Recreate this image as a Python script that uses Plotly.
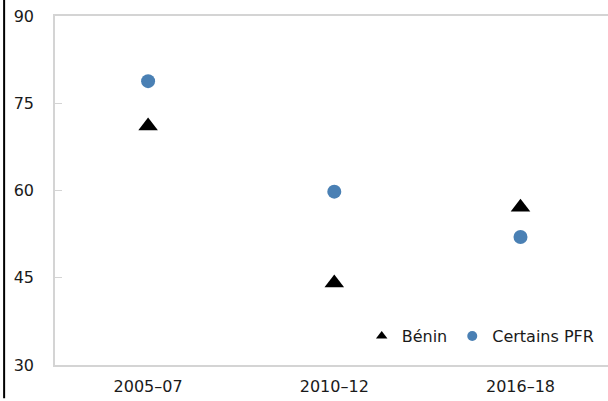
import plotly.graph_objects as go

periods = ["2005–07", "2010–12", "2016–18"]
benin = [71.1, 44.1, 57.1]
certains_pfr = [78.8, 59.8, 52.0]
y_ticks = [30, 45, 60, 75, 90]

font_family = "DejaVu Sans"
text_color = "#1a1a1a"
axis_grey = "#d4d4d4"
blue = "#4a80b4"

fig = go.Figure()

fig.add_trace(
    go.Scatter(
        x=periods,
        y=benin,
        mode="markers",
        name="Bénin",
        showlegend=False,
        marker=dict(symbol="triangle-up", size=17, color="#000000"),
    )
)

fig.add_trace(
    go.Scatter(
        x=periods,
        y=certains_pfr,
        mode="markers",
        name="Certains PFR",
        showlegend=False,
        marker=dict(symbol="circle", size=14, color=blue),
    )
)

# legend entries with smaller symbols, as in the original
fig.add_trace(
    go.Scatter(
        x=[None], y=[None], mode="markers", name="Bénin",
        marker=dict(symbol="triangle-up", size=10, color="#000000"),
    )
)
fig.add_trace(
    go.Scatter(
        x=[None], y=[None], mode="markers", name="Certains PFR",
        marker=dict(symbol="circle", size=10, color=blue),
    )
)

# left frame edge left over from the original crop
fig.add_shape(
    type="line",
    xref="paper", yref="paper",
    x0=-0.092, x1=-0.092, y0=1.05, y1=-0.095,
    line=dict(color="#000000", width=2),
)

fig.update_layout(
    width=608,
    height=401,
    margin=dict(l=55, r=0, t=16, b=36),
    paper_bgcolor="#ffffff",
    plot_bgcolor="#ffffff",
    font=dict(family=font_family, size=16, color=text_color),
    showlegend=True,
    legend=dict(
        orientation="h",
        x=0.985,
        xanchor="right",
        y=0.083,
        yanchor="middle",
        bgcolor="rgba(0,0,0,0)",
        font=dict(size=16),
        itemwidth=30,
        tracegroupgap=0,
    ),
    xaxis=dict(
        type="category",
        range=[-0.5, 2.47],
        showgrid=False,
        showline=True,
        linecolor=axis_grey,
        linewidth=1.5,
        mirror=True,
        ticks="",
        ticklabelstandoff=6,
        zeroline=False,
    ),
    yaxis=dict(
        range=[30, 90],
        tickvals=y_ticks,
        showgrid=False,
        showline=True,
        linecolor=axis_grey,
        linewidth=1.5,
        ticks="inside",
        ticklen=7,
        tickcolor=axis_grey,
        ticklabelstandoff=16,
        zeroline=False,
    ),
)

fig.write_html(
    "out.html",
    config={"displayModeBar": False},
    post_script="document.body.style.margin='0';",
)
